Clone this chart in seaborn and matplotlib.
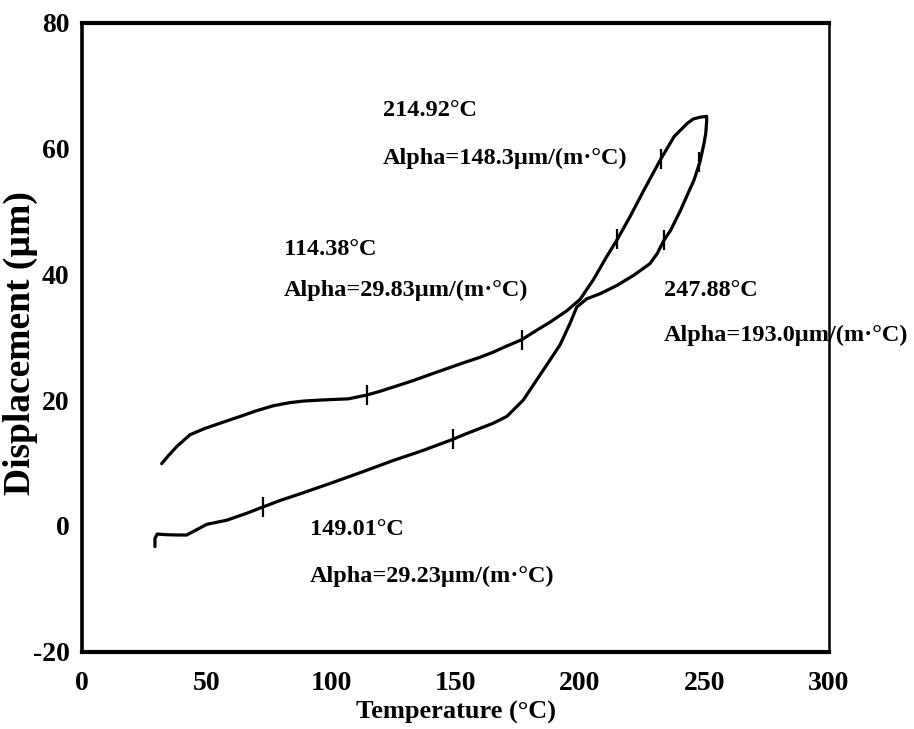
import matplotlib
matplotlib.use("Agg")
import matplotlib.pyplot as plt
from matplotlib.ticker import MultipleLocator
import seaborn as sns
import pandas as pd

# ---------------- data ----------------
heat_T = [32.0, 35.0, 38.0, 43.4, 49.4, 56.0, 63.5, 70.0, 76.8, 83.5, 89.0, 95.6, 101.0,
          107.0, 114.3, 119.7, 126.0, 133.0, 140.0, 146.5, 153.0, 159.8, 165.0, 170.6,
          176.6, 182.6, 188.0, 194.7, 200.0, 205.3, 210.7, 214.9, 220.0, 225.7, 232.4,
          237.8, 243.1, 245.5, 248.5, 250.8]
heat_D = [9.9, 11.3, 12.6, 14.5, 15.5, 16.4, 17.4, 18.3, 19.1, 19.6, 19.85, 20.0, 20.1,
          20.2, 20.8, 21.4, 22.2, 23.1, 24.1, 25.0, 25.9, 26.8, 27.6, 28.6,
          29.6, 31.1, 32.4, 34.2, 36.0, 39.1, 42.8, 45.5, 49.1, 53.4, 58.3,
          61.9, 64.0, 64.7, 65.0, 65.1]

cool_T = [250.8, 250.9, 250.5, 249.8, 248.2, 245.8, 240.4, 236.4, 233.7, 231.0, 228.1,
          221.4, 214.7, 208.0, 202.7, 198.7, 196.0, 192.0, 188.0, 182.6, 177.2, 170.6,
          165.0, 159.8, 154.0, 148.5, 137.0, 125.0, 112.0, 100.0, 87.6, 80.0, 72.6,
          66.1, 58.1, 50.1, 46.1, 42.0, 38.7, 34.0, 30.2, 29.3, 29.3]
cool_D = [65.1, 64.5, 62.4, 60.8, 57.9, 55.0, 50.2, 47.0, 45.4, 43.3, 41.7,
          39.8, 38.2, 36.9, 36.1, 34.8, 32.2, 28.8, 26.4, 23.2, 20.0, 17.4,
          16.3, 15.5, 14.6, 13.7, 12.0, 10.4, 8.5, 6.8, 5.1, 4.1, 3.0,
          2.0, 0.9, 0.25, -0.6, -1.45, -1.45, -1.4, -1.3, -2.0, -3.3]

# segment-boundary markers on the curves
mark_heat_T = [114.38, 176.6, 214.92, 232.4]
mark_heat_D = [20.8, 29.6, 45.6, 58.3]
mark_cool_T = [72.6, 149.01, 233.7, 247.88]
mark_cool_D = [3.0, 13.75, 45.4, 57.9]

# annotations
onset_labels = ["214.92°C", "114.38°C", "247.88°C", "149.01°C"]
alpha_labels = ["Alpha=148.3µm/(m·°C)", "Alpha=29.83µm/(m·°C)",
                "Alpha=193.0µm/(m·°C)", "Alpha=29.23µm/(m·°C)"]

x_ticks = [0, 50, 100, 150, 200, 250, 300]
y_ticks = [-20, 0, 20, 40, 60, 80]

# ---------------- style ----------------
sns.set_theme(style="white")
plt.rcParams["font.family"] = ["Liberation Serif", "DejaVu Serif"]
plt.rcParams["font.weight"] = "bold"
plt.rcParams["axes.unicode_minus"] = False
for key in ["text.color", "axes.labelcolor", "xtick.color", "ytick.color", "axes.edgecolor"]:
    plt.rcParams[key] = "black"

fig = plt.figure(figsize=(9.14, 7.29), dpi=100)
ax = fig.add_axes([82 / 914, 1 - 651.7 / 729, (829 - 82) / 914, (651.7 - 22.7) / 729])

heat_df = pd.DataFrame({"T": heat_T, "D": heat_D})
cool_df = pd.DataFrame({"T": cool_T, "D": cool_D})
sns.lineplot(data=heat_df, x="T", y="D", sort=False, estimator=None, ax=ax,
             color="black", linewidth=2.3)
sns.lineplot(data=cool_df, x="T", y="D", sort=False, estimator=None, ax=ax,
             color="black", linewidth=2.3)
ax.plot(mark_heat_T, mark_heat_D, linestyle="none", marker="|", markersize=14,
        markeredgewidth=1.6, color="black")
ax.plot(mark_cool_T, mark_cool_D, linestyle="none", marker="|", markersize=14,
        markeredgewidth=1.6, color="black")

# annotation positions (data coordinates)
onset_pos = [(120.9, 66.1), (81.1, 43.9), (233.7, 37.5), (91.6, -0.5)]
alpha_pos = [(120.9, 58.5), (81.1, 37.5), (233.7, 30.3), (91.6, -8.1)]
for lab, (x, y) in zip(onset_labels, onset_pos):
    ax.text(x, y, lab, fontsize=17.5, fontweight="bold", ha="left", va="center")
for lab, (x, y) in zip(alpha_labels, alpha_pos):
    ax.text(x, y, lab, fontsize=17.5, fontweight="bold", ha="left", va="center",
            clip_on=False)

ax.set_xlim(0, 300)
ax.set_ylim(-20, 80)
ax.set_xticks(x_ticks)
ax.set_yticks(y_ticks)
ax.xaxis.set_minor_locator(MultipleLocator(12.5))
ax.yaxis.set_minor_locator(MultipleLocator(5))
ax.tick_params(axis="both", which="major", direction="out", length=8, width=2,
               labelsize=20, pad=3, color="black")
ax.tick_params(axis="both", which="minor", direction="out", length=3.5, width=2,
               color="black")
ax.tick_params(axis="x", which="major", pad=6)
ax.tick_params(axis="y", which="major", pad=1)
ax.tick_params(top=False, right=False, which="both")
for lab in ax.get_xticklabels() + ax.get_yticklabels():
    lab.set_fontweight("bold")

for side, w in [("top", 3.0), ("bottom", 3.0), ("left", 2.6), ("right", 1.8)]:
    ax.spines[side].set_visible(True)
    ax.spines[side].set_linewidth(w)
    ax.spines[side].set_color("black")

ax.set_xlabel("Temperature (°C)", fontsize=19, fontweight="bold")
ax.set_ylabel("Displacement (µm)", fontsize=27, fontweight="bold")
ax.xaxis.set_label_coords(0.5, -0.078)
ax.yaxis.set_label_coords(-0.059, 0.49)

fig.savefig("out.png", dpi=100, facecolor="white")
